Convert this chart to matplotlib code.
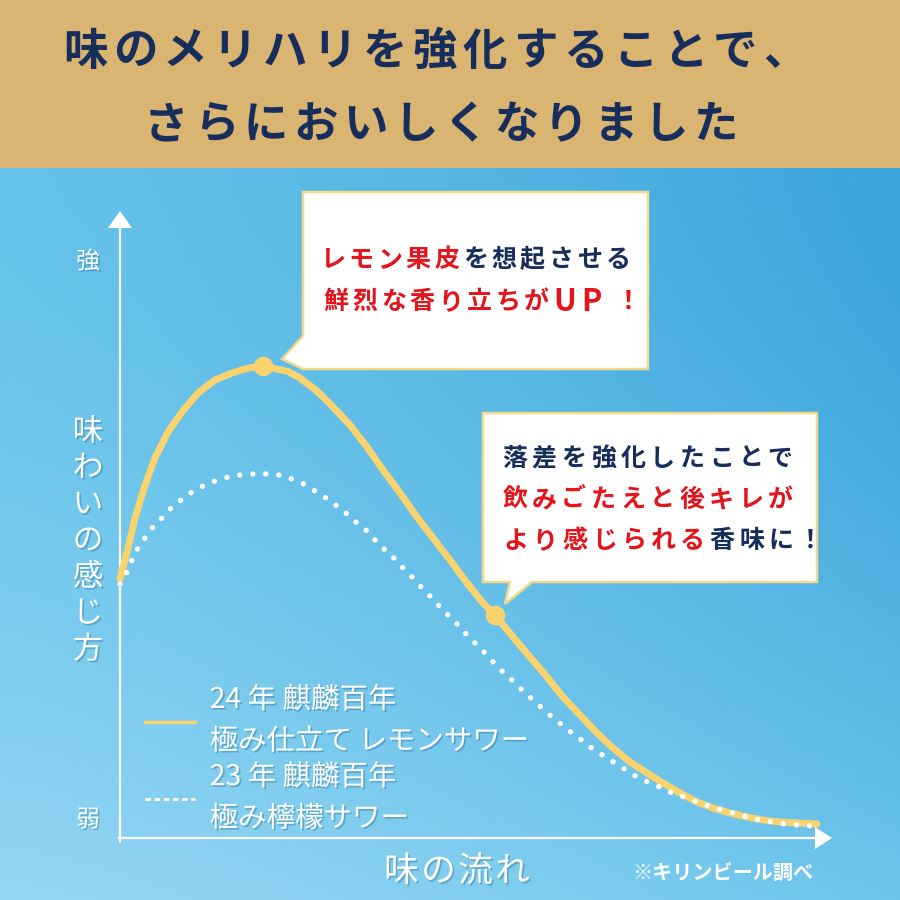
import matplotlib
matplotlib.use('Agg')
import matplotlib.pyplot as plt
import matplotlib.patheffects as pe
from matplotlib.patches import Polygon, Rectangle
from matplotlib.lines import Line2D
import numpy as np

plt.rcParams['font.family'] = ['Noto Sans CJK JP', 'DejaVu Sans']

# ---- データ ----
# 横軸: 味の流れ / 縦軸: 味わいの感じ方 (任意単位)
flow_new = [0, 0.8, 1.5, 2.5, 3.5, 4.8, 6.2, 7.8, 9.5, 11.2,
            12.8, 14.3, 16.8, 18.0, 19.7, 21.3, 23.0, 24.7, 26.3, 28.0,
            29.7, 31.3, 33.0, 34.7, 36.3, 37.5, 39.3, 41.0, 42.7, 44.3,
            46.0, 47.7, 49.3, 51.0, 52.7, 54.3, 56.0, 57.7, 59.3, 61.0,
            62.7, 64.3, 66.0, 69.7]
taste_new = [26.1, 29.2, 32.2, 35.5, 38.2, 40.8, 42.8, 44.7, 46.0, 46.7,
             47.2, 47.4, 46.85, 46.2, 44.9, 43.3, 41.5, 39.3, 37.0, 34.7,
             32.3, 30.2, 28.0, 25.7, 23.7, 22.5, 20.3, 18.3, 16.3, 14.3,
             12.5, 10.7, 9.2, 7.8, 6.7, 5.7, 4.7, 3.8, 3.2, 2.7,
             2.3, 2.0, 1.8, 1.6]
flow_old = [0, 0.7, 1.2, 1.8, 2.5, 3.3, 4.2, 5.1, 6.1, 7.2,
            8.3, 9.5, 10.8, 12.0, 13.3, 14.7, 15.9, 17.2, 18.4, 19.5,
            20.6, 21.7, 22.7, 23.7, 24.7, 25.6, 26.5, 27.5, 28.4, 29.3,
            30.2, 31.1, 32.0, 32.9, 33.8, 34.7, 35.6, 36.5, 37.4, 38.3,
            39.3, 40.2, 41.2, 42.2, 43.2, 44.2, 45.2, 46.3, 47.3, 48.4,
            49.5, 50.6, 51.7, 52.8, 54.0, 55.2, 56.4, 57.7, 58.9, 60.2,
            61.4, 62.7, 64.0, 65.3, 66.5, 67.8, 69.2]
taste_old = [25.6, 26.8, 28.0, 29.2, 30.2, 31.3, 32.2, 33.2, 34.0, 34.8,
             35.4, 35.9, 36.3, 36.5, 36.6, 36.6, 36.5, 36.1, 35.6, 34.9,
             34.2, 33.4, 32.6, 31.7, 30.9, 29.9, 29.0, 28.1, 27.1, 26.2,
             25.2, 24.3, 23.3, 22.4, 21.5, 20.5, 19.6, 18.7, 17.7, 16.8,
             15.9, 15.0, 14.1, 13.2, 12.3, 11.5, 10.7, 9.9, 9.1, 8.4,
             7.7, 7.0, 6.3, 5.8, 5.3, 4.7, 4.3, 3.8, 3.4, 3.0,
             2.7, 2.3, 2.0, 1.8, 1.6, 1.5, 1.4]
highlight_idx = [11, 25]   # 吹き出しが指す点

series_labels = ['24 年 麒麟百年\n極み仕立て レモンサワー',
                 '23 年 麒麟百年\n極み檸檬サワー']
headline = ['味のメリハリを強化することで、', 'さらにおいしくなりました']
y_top, y_bottom = '強', '弱'
y_title = '味わいの感じ方'
x_title = '味の流れ'
note = '※キリンビール調べ'

RED = '#E5131C'
NAVY = '#172E5C'
callout_peak = [[('レモン果皮', RED), ('を想起させる', NAVY)],
                [('鮮烈な香り立ちがUP ！', RED)]]
callout_fall = [[('落差を強化したことで', NAVY)],
                [('飲みごたえと後キレが', RED)],
                [('より感じられる', RED), ('香味に！', NAVY)]]

GOLD = '#DAB571'
YELLOW = '#F9D36E'
BORDER = '#F3D98C'
SHADOW = [pe.withSimplePatchShadow(offset=(1.2, -1.2), shadow_rgbFace='#1b5f8a', alpha=0.35)]


def put_line(axo, x, y, parts, pitch, size, weight='bold', effects=None):
    # 1文字ずつ並べて字間をそろえる
    cx = x
    for text, color in parts:
        for ch in text:
            if ch == ' ':
                cx += pitch * 0.3
                continue
            wide = ord(ch) > 0x2E80
            adv = pitch if wide else pitch * 0.95
            t = axo.text(cx + adv / 2, y, ch, ha='center', va='center',
                         fontsize=size if wide else size * 1.22,
                         fontweight=weight, color=color)
            if effects:
                t.set_path_effects(effects)
            cx += adv


fig = plt.figure(figsize=(9, 9), dpi=100)

# --- 背景 ---
bg = fig.add_axes([0, 0, 1, 1], zorder=0)
H, W = 732, 900
yy, xx = np.mgrid[0:H, 0:W]
f = ((xx / W) ** 1.3)[..., None]
g = ((yy / H) ** 1.5)[..., None]
tl = np.array([101, 194, 234]) / 255
tr = np.array([58, 164, 219]) / 255
bl = np.array([147, 214, 242]) / 255
br = np.array([109, 197, 236]) / 255
img = tl * (1 - f) * (1 - g) + tr * f * (1 - g) + bl * (1 - f) * g + br * f * g
bg.imshow(img, extent=(0, 900, 900, 168), aspect='auto', interpolation='bilinear')
bg.add_patch(Rectangle((0, 0), 900, 168, color=GOLD, lw=0))
bg.set_xlim(0, 900)
bg.set_ylim(900, 0)
bg.axis('off')

# 軸の矢印
bg.plot([120, 120], [842, 226], color='white', lw=1.6)
bg.add_patch(Polygon([(120, 211), (108, 228), (132, 228)], color='white', lw=0))
bg.plot([119, 816], [838, 838], color='white', lw=1.6)
bg.add_patch(Polygon([(832, 838), (815, 827), (815, 849)], color='white', lw=0))

# --- グラフ本体 ---
ax = fig.add_axes([120 / 900, 60 / 900, 720 / 900, 640 / 900], zorder=1)
ax.set_xlim(0, 72)
ax.set_ylim(0, 64)
ax.axis('off')

ax.plot(flow_new, taste_new, color=YELLOW, lw=5, solid_capstyle='round',
        solid_joinstyle='round', zorder=3, clip_on=False)
ax.plot(flow_old, taste_old, color='white', lw=3.9, linestyle=(0, (0.01, 2.4)),
        dash_capstyle='round', zorder=4, clip_on=False)
ax.scatter([flow_new[i] for i in highlight_idx], [taste_new[i] for i in highlight_idx],
           s=170, color=YELLOW, zorder=5, clip_on=False)

handles = [Line2D([], [], color=YELLOW, lw=2.5),
           Line2D([], [], color='white', lw=2, dashes=(2, 1.3))]
leg = ax.legend(handles=handles, labels=series_labels, loc='upper left',
                bbox_to_anchor=(145 / 900, 1 - 685 / 900), bbox_transform=fig.transFigure,
                frameon=False, fontsize=20.5, labelcolor='white', handlelength=1.75,
                handletextpad=0.52, labelspacing=0.2, borderpad=0, borderaxespad=0)
for t in leg.get_texts():
    t.set_linespacing(1.5)
    t.set_path_effects(SHADOW)

# --- 文字と吹き出し ---
ov = fig.add_axes([0, 0, 1, 1], zorder=2)
ov.set_xlim(0, 900)
ov.set_ylim(900, 0)
ov.axis('off')

put_line(ov, 60, 52, [(headline[0], NAVY)], 50, 32)
put_line(ov, 141, 125, [(headline[1], NAVY)], 50, 32)

ov.add_patch(Polygon([(303, 192), (648, 192), (648, 369), (303, 369), (282, 359), (303, 336)],
                     closed=True, facecolor='white', edgecolor=BORDER, lw=1.8, joinstyle='miter'))
ov.add_patch(Polygon([(483, 413), (817, 413), (817, 582), (532, 582), (505, 604), (510, 582), (483, 582)],
                     closed=True, facecolor='white', edgecolor=BORDER, lw=1.8, joinstyle='miter'))

put_line(ov, 318, 260, callout_peak[0], 28.6, 18)
put_line(ov, 322, 302, callout_peak[1], 28.6, 18)
put_line(ov, 500, 459, callout_fall[0], 29.5, 18)
put_line(ov, 500, 500, callout_fall[1], 29.5, 18)
put_line(ov, 501, 541, callout_fall[2], 29.5, 18)

t = ov.text(88, 262, y_top, ha='center', va='center', fontsize=17, color='white')
t.set_path_effects(SHADOW)
t = ov.text(88, 820, y_bottom, ha='center', va='center', fontsize=17, color='white')
t.set_path_effects(SHADOW)
for i, ch in enumerate(y_title):
    t = ov.text(88, 432 + 36.3 * i, ch, ha='center', va='center', fontsize=22, color='white')
    t.set_path_effects(SHADOW)

put_line(ov, 383, 872, [(x_title, 'white')], 37, 25, weight='normal', effects=SHADOW)
ov.text(632, 872, note, ha='left', va='center', fontsize=14.5, fontweight='bold', color='white')

fig.savefig('out.png', dpi=100)
